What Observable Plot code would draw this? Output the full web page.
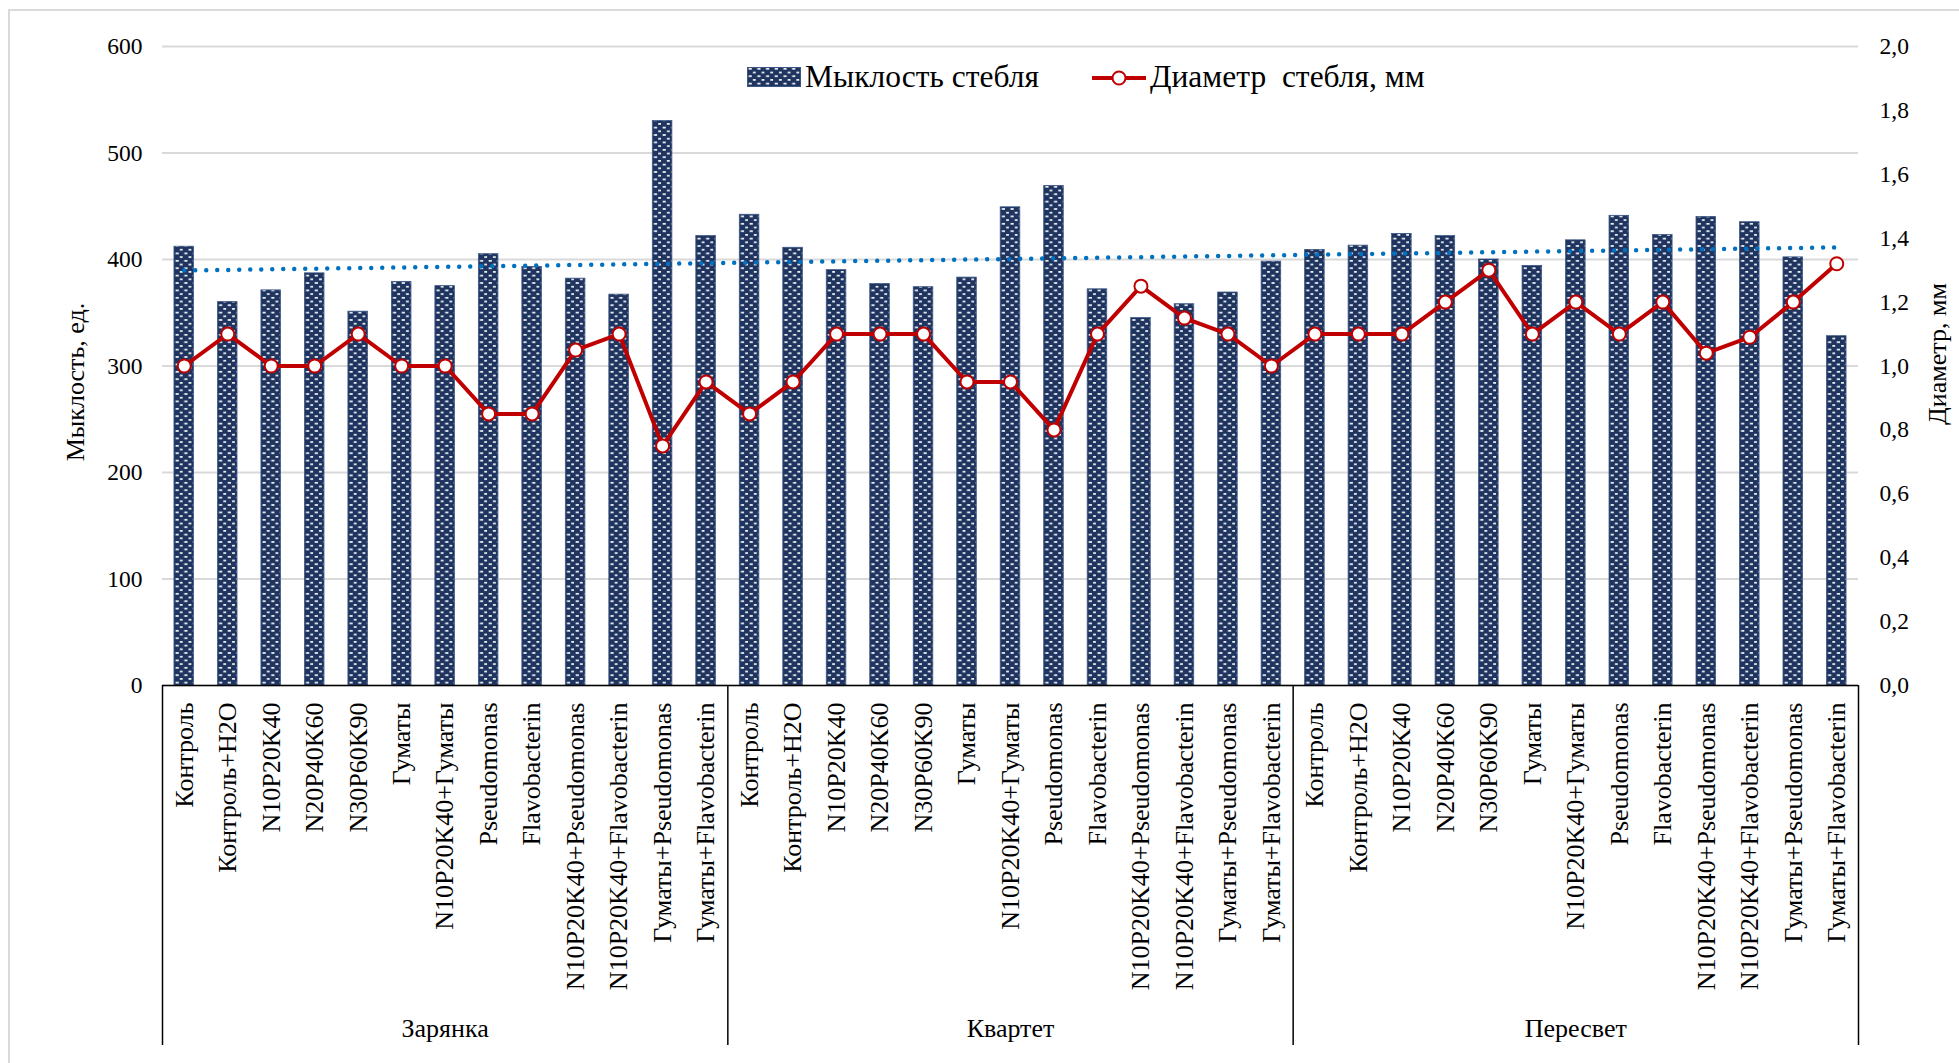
<!DOCTYPE html>
<html>
<head>
<meta charset="utf-8">
<script src="https://cdn.jsdelivr.net/npm/d3@7"></script>
<script src="https://cdn.jsdelivr.net/npm/@observablehq/plot@0.6"></script>
<style>
  html, body { margin: 0; padding: 0; background: #fff; }
  #wrap { position: relative; width: 1959px; height: 1063px; font-family: 'Liberation Serif', 'Times New Roman', serif; }
  #wrap svg { display: block; }
  .frame { position: absolute; left: 8px; top: 9px; right: 0; bottom: 0; border-left: 2px solid #d9d9d9; border-top: 2px solid #d9d9d9; pointer-events: none; }
  .lg { position: absolute; font-size: 31.5px; line-height: 31px; white-space: pre; color: #000; }
</style>
</head>
<body>
<div id="wrap"></div>
<script>
// ---- data ----
const groups = ["Зарянка", "Квартет", "Пересвет"];
const categories = ["Контроль", "Контроль+H2O", "N10P20K40", "N20P40K60", "N30P60K90", "Гуматы",
  "N10P20K40+Гуматы", "Pseudomonas", "Flavobacterin", "N10P20K40+Pseudomonas",
  "N10P20K40+Flavobacterin", "Гуматы+Pseudomonas", "Гуматы+Flavobacterin"];
const mykZar = [412, 360, 371, 387, 351, 379, 375, 405, 393, 382, 367, 530, 422];
const mykKva = [442, 411, 390, 377, 374, 383, 449, 469, 372, 345, 358, 369, 398];
const mykPer = [409, 413, 424, 422, 400, 394, 418, 441, 423, 440, 435, 402, 328];
const diamZar = [1.0, 1.1, 1.0, 1.0, 1.1, 1.0, 1.0, 0.85, 0.85, 1.05, 1.1, 0.75, 0.95];
const diamKva = [0.85, 0.95, 1.1, 1.1, 1.1, 0.95, 0.95, 0.8, 1.1, 1.25, 1.15, 1.1, 1.0];
const diamPer = [1.1, 1.1, 1.1, 1.2, 1.3, 1.1, 1.2, 1.1, 1.2, 1.04, 1.09, 1.2, 1.32];
const leftTicks = [0, 100, 200, 300, 400, 500, 600];
const rightTicks = [0, 0.2, 0.4, 0.6, 0.8, 1.0, 1.2, 1.4, 1.6, 1.8, 2.0];
const seriesNames = ["Мыклость стебля", "Диаметр  стебля, мм"];
const yTitleLeft = "Мыклость, ед.";
const yTitleRight = "Диаметр, мм";

// ---- build table ----
const myk = [mykZar, mykKva, mykPer];
const diam = [diamZar, diamKva, diamPer];
const rows = [];
groups.forEach((g, gi) => categories.forEach((c, ci) => {
  rows.push({key: g + "|" + c, group: g, cat: c, idx: rows.length, myk: myk[gi][ci], diam: diam[gi][ci]});
}));
const ratio = d3.max(leftTicks) / d3.max(rightTicks);

// linear trend of the bar series (Excel-style trendline)
const mx = d3.mean(rows, d => d.idx), my = d3.mean(rows, d => d.myk);
const slope = d3.sum(rows, d => (d.idx - mx) * (d.myk - my)) / d3.sum(rows, d => (d.idx - mx) ** 2);
rows.forEach(d => d.trend = my + slope * (d.idx - mx));

const W = 1959, H = 1063, mL = 162, mR = 101, mT = 46, mB = 378;
const step = (W - mL - mR) / rows.length;
const barInset = step * 0.275;
const frameH = H - mT - mB;

const groupMid = groups.map((g, gi) => ({name: g, key: rows[gi * categories.length + Math.floor(categories.length / 2)].key}));
const sepLeft = groups.map((g, gi) => ({key: rows[gi * categories.length].key}));
const sepRight = [{key: rows[rows.length - 1].key}];

const NAVY = "#1f3560", RED = "#C00000", BLUE = "#0070C0";

const svg = Plot.plot({
  width: W, height: H,
  marginLeft: mL, marginRight: mR, marginTop: mT, marginBottom: mB,
  style: {fontFamily: "'Liberation Serif', 'Times New Roman', serif", fontSize: "23px", color: "#000", background: "transparent", overflow: "visible"},
  x: {type: "band", domain: rows.map(d => d.key), padding: 0, round: false, axis: null},
  y: {domain: [0, d3.max(leftTicks)], axis: null},
  marks: [
    Plot.gridY(leftTicks, {stroke: "#d9d9d9", strokeOpacity: 1, strokeWidth: 2}),
    Plot.barY(rows, {x: "key", y: "myk", insetLeft: barInset, insetRight: barInset, fill: "url(#dotpat)", stroke: "#3b5586", strokeWidth: 0.8}),
    Plot.ruleY([0], {stroke: "#000", strokeWidth: 1.5}),
    Plot.line(rows, {x: "key", y: "trend", stroke: BLUE, strokeWidth: 4.5, strokeDasharray: "0 11", strokeLinecap: "round"}),
    Plot.line(rows, {x: "key", y: d => d.diam * ratio, stroke: RED, strokeWidth: 4, strokeLinejoin: "round"}),
    Plot.dot(rows, {x: "key", y: d => d.diam * ratio, r: 6.5, fill: "#fff", stroke: RED, strokeWidth: 2}),
    Plot.axisY(leftTicks, {anchor: "left", tickSize: 0, tickPadding: 20, fontSize: 23.5, label: null}),
    Plot.axisY(rightTicks.map(d => d * ratio), {anchor: "right", tickSize: 0, tickPadding: 21, fontSize: 23.5, label: null,
      tickFormat: d => (d / ratio).toFixed(1).replace(".", ",")}),
    Plot.axisX({tickRotate: -90, tickSize: 0, tickPadding: 17, fontSize: 26, label: null, tickFormat: k => k.split("|")[1]}),
    Plot.text([yTitleLeft], {frameAnchor: "left", textAnchor: "middle", dx: -87, dy: 16, rotate: -90, fontSize: 26}),
    Plot.text([yTitleRight], {frameAnchor: "right", textAnchor: "middle", dx: 79, dy: -12, rotate: -90, fontSize: 26}),
    Plot.text(groupMid, {x: "key", y: 0, text: "name", dy: 343, fontSize: 26}),
    Plot.ruleX(sepLeft, {x: "key", dx: -step / 2, insetTop: frameH, insetBottom: -360, stroke: "#000", strokeWidth: 1.5}),
    Plot.ruleX(sepRight, {x: "key", dx: step / 2, insetTop: frameH, insetBottom: -360, stroke: "#000", strokeWidth: 1.5})
  ]
});

// pattern fill for the bars (brick of small white dashes on navy)
function addPattern(node, id, x0) {
  const pw = step / 5, ph = 7.4;
  const defs = d3.select(node).insert("defs", ":first-child");
  const p = defs.append("pattern").attr("id", id).attr("patternUnits", "userSpaceOnUse")
    .attr("x", x0).attr("y", 0).attr("width", pw).attr("height", ph);
  p.append("rect").attr("width", pw).attr("height", ph).attr("fill", NAVY);
  p.append("rect").attr("x", 1.6).attr("y", 1.0).attr("width", 3.2).attr("height", 1.6).attr("fill", "#fff");
  p.append("rect").attr("x", 5.9).attr("y", 4.7).attr("width", 2.8).attr("height", 1.6).attr("fill", "#fff");
}
addPattern(svg, "dotpat", mL + barInset);

const wrap = document.getElementById("wrap");
wrap.appendChild(svg);

// frame border of chart area
const fr = document.createElement("div");
fr.className = "frame";
wrap.appendChild(fr);

// legend (overlay, inside the plot area as in the reference)
function legendSwatchBar() {
  const s = d3.create("svg").attr("width", 54).attr("height", 20)
    .style("position", "absolute").style("left", "747px").style("top", "67px");
  addPattern(s.node(), "dotpat2", 0);
  s.append("rect").attr("x", 0.5).attr("y", 0.5).attr("width", 53).attr("height", 19)
    .attr("fill", "url(#dotpat2)").attr("stroke", "#3b5586");
  return s.node();
}
function legendSwatchLine() {
  const s = d3.create("svg").attr("width", 54).attr("height", 20)
    .style("position", "absolute").style("left", "1092px").style("top", "68px");
  s.append("line").attr("x1", 0).attr("x2", 54).attr("y1", 10).attr("y2", 10).attr("stroke", RED).attr("stroke-width", 4);
  s.append("circle").attr("cx", 27).attr("cy", 10).attr("r", 6.5).attr("fill", "#fff").attr("stroke", RED).attr("stroke-width", 2);
  return s.node();
}
wrap.appendChild(legendSwatchBar());
wrap.appendChild(legendSwatchLine());
[[seriesNames[0], 805], [seriesNames[1], 1150]].forEach(([t, x]) => {
  const d = document.createElement("div");
  d.className = "lg";
  d.style.left = x + "px";
  d.style.top = "61px";
  d.textContent = t;
  wrap.appendChild(d);
});
</script>
</body>
</html>
